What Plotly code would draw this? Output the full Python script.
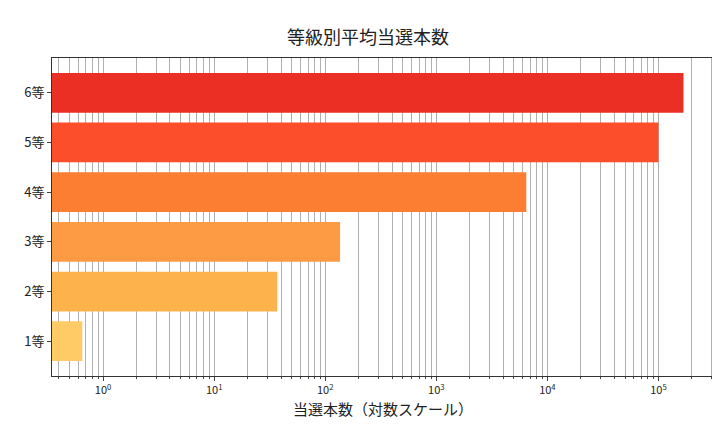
import plotly.graph_objects as go

categories = ["1等", "2等", "3等", "4等", "5等", "6等"]
values = [0.65, 37, 136, 6460, 100000, 168000]
colors = ["#fecb66", "#feb24c", "#fd9b44", "#fc7e33", "#fc4e2a", "#eb2f25"]
tick_vals = [1, 10, 100, 1000, 10000, 100000]
tick_text = ["10<sup>0</sup>", "10<sup>1</sup>", "10<sup>2</sup>", "10<sup>3</sup>", "10<sup>4</sup>", "10<sup>5</sup>"]

fig = go.Figure(go.Bar(x=values, y=categories, orientation="h",
                       marker=dict(color=colors, line=dict(width=0)), width=0.8))
fig.update_layout(
    width=720, height=432, plot_bgcolor="white", paper_bgcolor="white",
    font=dict(family="Noto Sans CJK JP", size=12, color="#222"),
    title=dict(text="等級別平均当選本数", x=0.5, xanchor="center", y=0.945, font=dict(size=18)),
    margin=dict(l=44, r=14, t=50, b=64),
    showlegend=False, bargap=0.2,
)
fig.update_xaxes(type="log", range=[-0.46, 5.5], tickvals=tick_vals, ticktext=tick_text,
                 showgrid=True, gridcolor="#b0b0b0", gridwidth=0.8, automargin=False,
                 minor=dict(showgrid=True, dtick="D1", gridcolor="#b0b0b0", gridwidth=0.8,
                            ticks="outside", ticklen=2),
                 ticks="outside", ticklen=4, showline=True, linecolor="#333", mirror=True,
                 title=dict(text="当選本数（対数スケール）", font=dict(size=15), standoff=8),
                 tickfont=dict(size=11))
fig.update_yaxes(showline=True, linecolor="#333", mirror=True, ticks="outside", ticklen=4,
                 automargin=False, tickfont=dict(size=13), range=[-0.7, 5.7])
fig.write_html("out.html")
